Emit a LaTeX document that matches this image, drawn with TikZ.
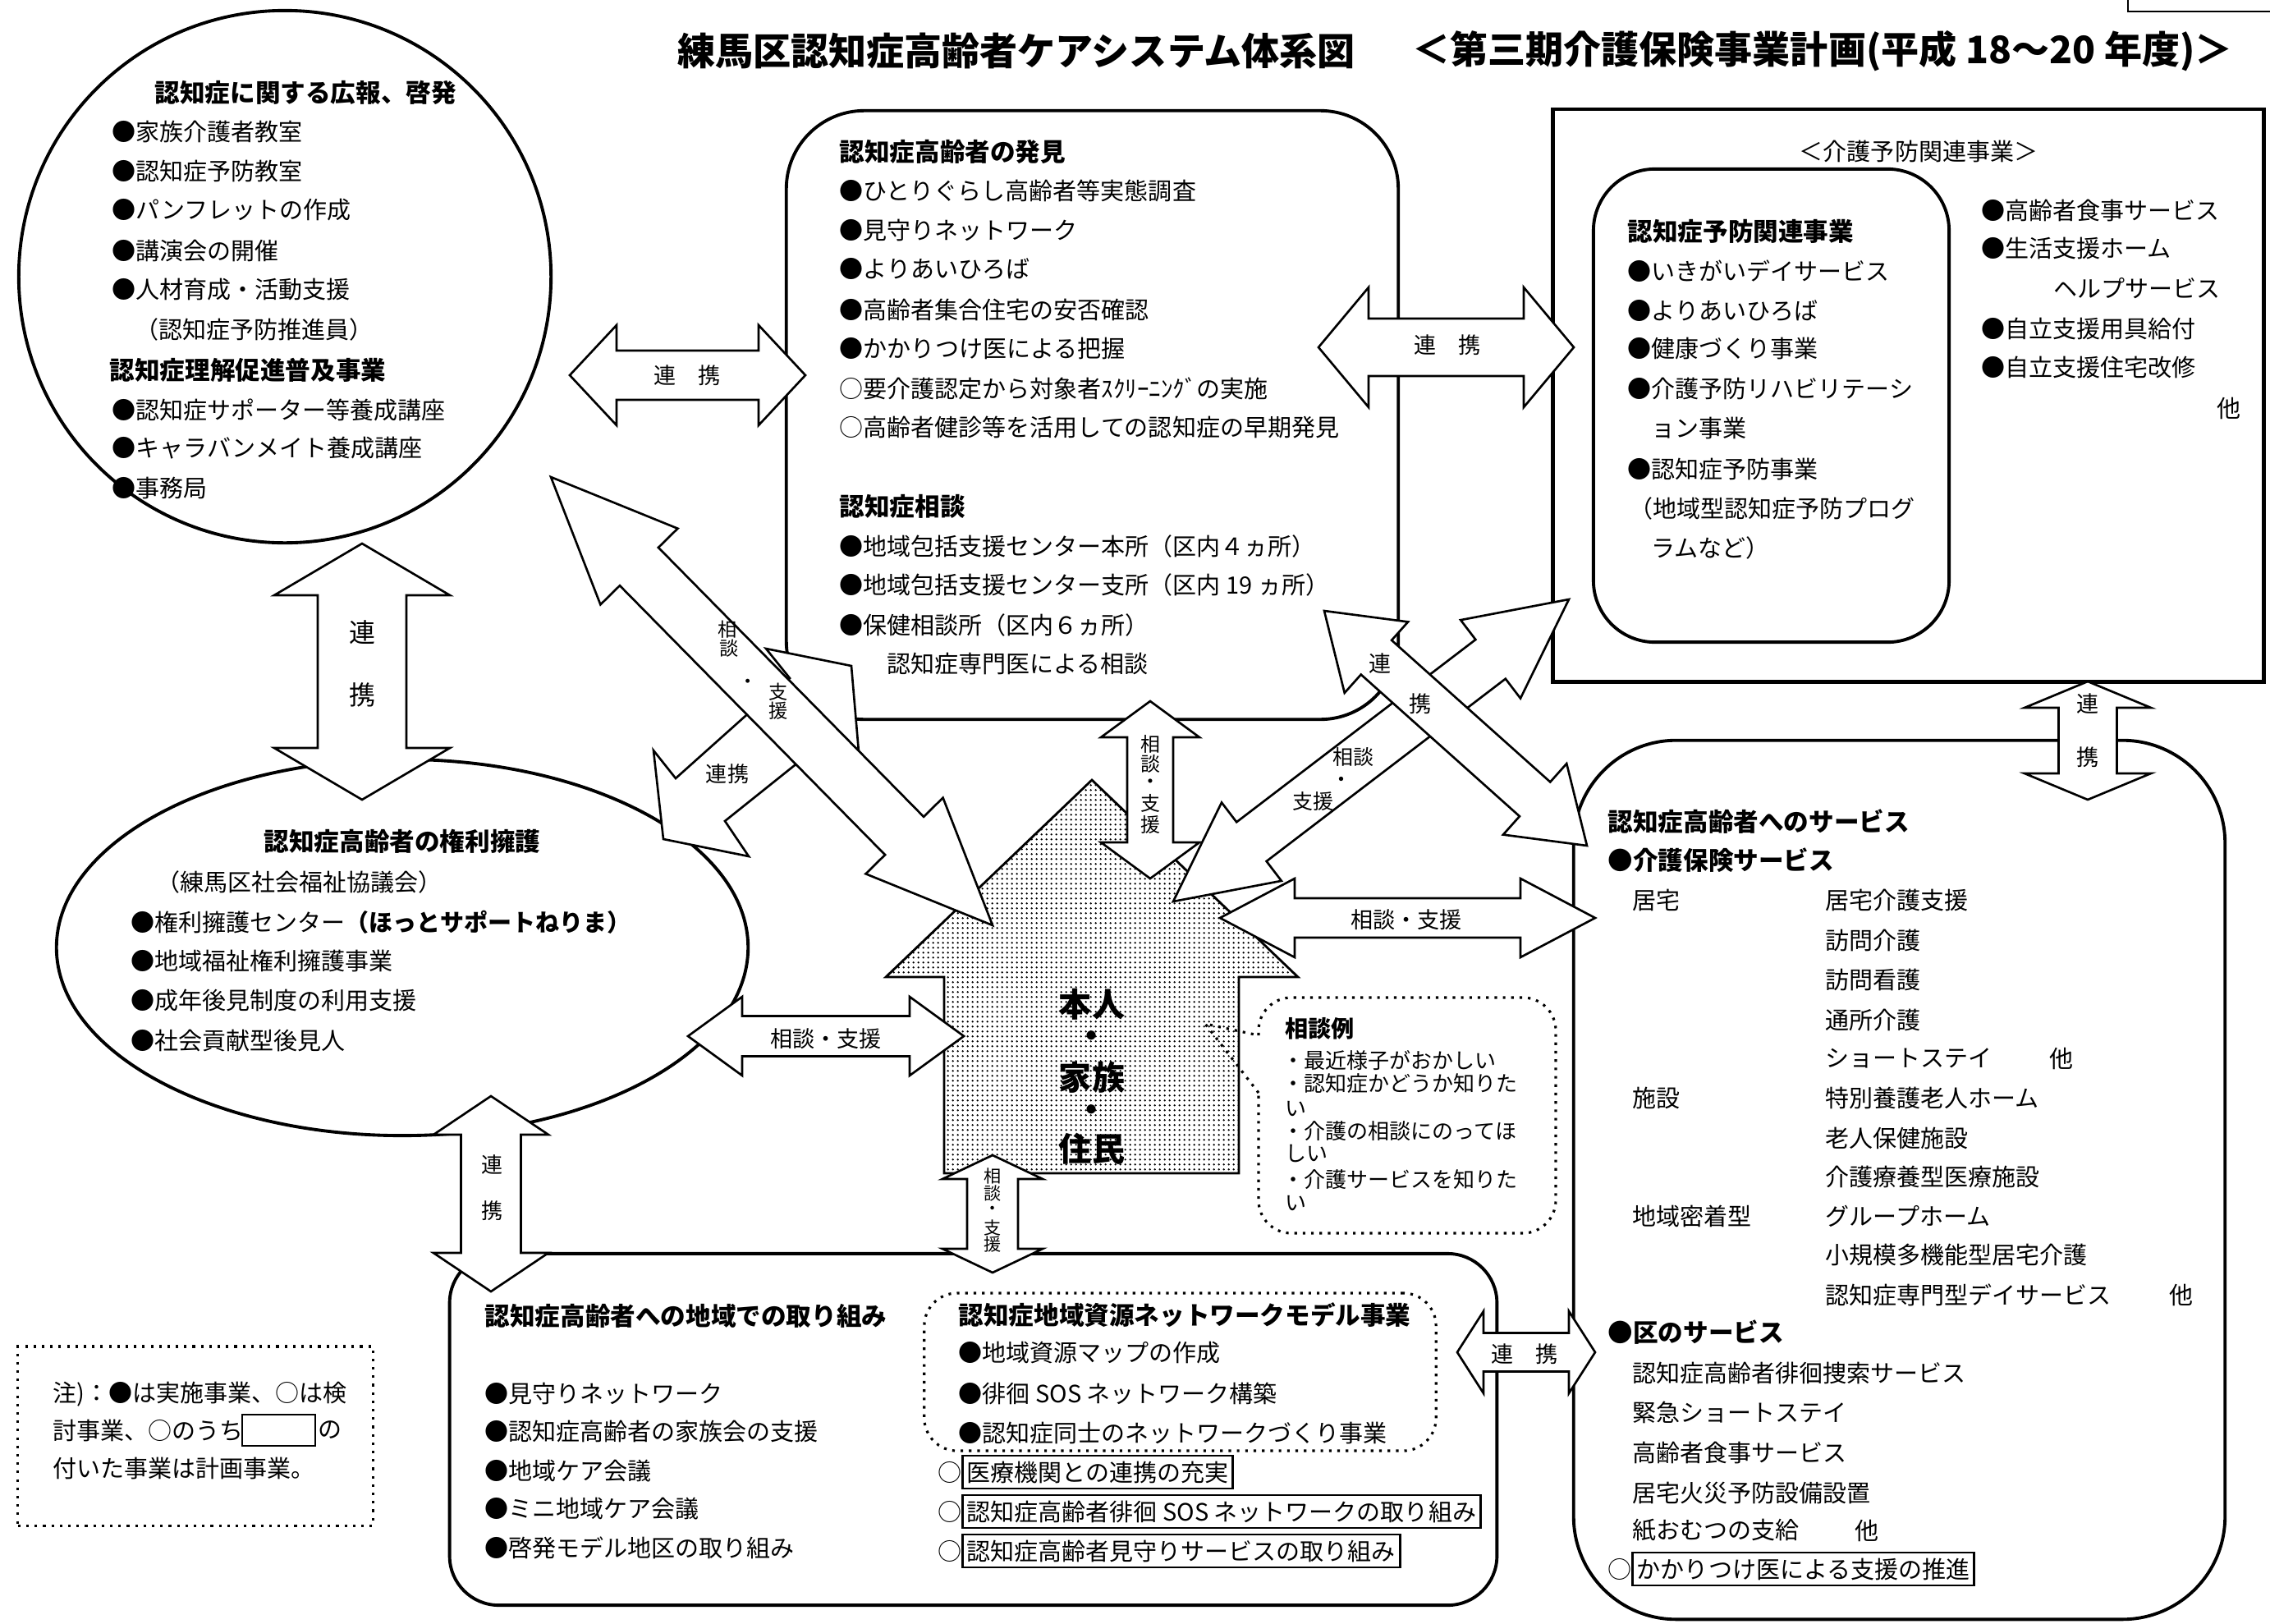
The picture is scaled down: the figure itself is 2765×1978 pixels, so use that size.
\documentclass[tikz,border=0pt]{standalone}
\usepackage{fontspec}
\setmainfont{Noto Sans CJK JP}
\usetikzlibrary{calc,shapes.geometric,patterns}
\pgfdeclarepatternformonly{finedots}{\pgfpointorigin}{\pgfpoint{1.6pt}{1.6pt}}{\pgfpoint{1.6pt}{1.6pt}}{\pgfpathcircle{\pgfpoint{0.8pt}{0.8pt}}{0.38pt}\pgfusepath{fill}}
\newcommand{\fsz}[1]{\fontsize{#1}{#1}\selectfont}
\newcommand{\txtline}[4]{\node[txt] (#1) at (#2,#3) {#4};}
% double block arrow: tipA, tipB, shaft half width, head half width, head length
\newcommand{\dblarrow}[5]{%
  \draw[blk] (#1)
    -- ($(#1)!#5!(#2)!#4!90:(#2)$)
    -- ($(#1)!#5!(#2)!#3!90:(#2)$)
    -- ($(#2)!#5!(#1)!#3!-90:(#1)$)
    -- ($(#2)!#5!(#1)!#4!-90:(#1)$)
    -- (#2)
    -- ($(#2)!#5!(#1)!#4!90:(#1)$)
    -- ($(#2)!#5!(#1)!#3!90:(#1)$)
    -- ($(#1)!#5!(#2)!#3!-90:(#2)$)
    -- ($(#1)!#5!(#2)!#4!-90:(#2)$)
    -- cycle;}
\begin{document}
\begin{tikzpicture}[x=0.01cm,y=-0.01cm,
  txt/.style={anchor=west,inner sep=0pt,font=\fsz{8.25pt}},
  hdr/.style={anchor=west,inner sep=0pt,font=\fsz{8.7pt}\bfseries},
  lbl/.style={inner sep=0pt,font=\fsz{7.7pt}},
  boxed/.style={anchor=west,draw,line width=0.8pt,inner xsep=1.5pt,inner ysep=0pt,minimum height=0.40cm,font=\fsz{8.25pt}},
  frame/.style={draw,line width=1.1pt,inner sep=0pt},
  blk/.style={draw,fill=white,line width=0.75pt,line join=miter},
  dotframe/.style={draw,dotted,line width=0.9pt,inner sep=0pt},
]
\fill[white] (0,0) rectangle (2765,1978);
\useasboundingbox (0,0) rectangle (2765,1978);

% ---------- titles ----------
\node[inner sep=0pt,font=\fsz{13.1pt}\bfseries] (title) at (1238,62) {練馬区認知症高齢者ケアシステム体系図};
\node[inner sep=0pt,font=\fsz{13.1pt}\bfseries] (title2) at (2220,62) {＜第三期介護保険事業計画(平成 18〜20 年度)＞};
\draw[line width=0.8pt] (2592,0) -- (2592,14) -- (2765,14);

% ---------- main shapes ----------
\node[frame,circle,minimum size=6.48cm] (kouhou) at (347,337) {};
\node[frame,rounded corners=0.95cm,minimum width=7.45cm,minimum height=7.41cm] (hakken) at (1330.5,505.5) {};
\node[frame,line width=1.3pt,minimum width=8.65cm,minimum height=6.97cm] (yobo) at (2324.5,481.5) {};
\node[frame,rounded corners=0.75cm,minimum width=4.33cm,minimum height=5.76cm] (yoboin) at (2157.5,494) {};
\node[frame,ellipse,minimum width=8.42cm,minimum height=4.58cm] (kenri) at (490,1154) {};
\node[frame,rounded corners=0.6cm,minimum width=12.75cm,minimum height=4.28cm] (chiiki) at (1185.5,1741) {};
\node[dotframe,rounded corners=0.4cm,minimum width=6.23cm,minimum height=1.92cm] (model) at (1437.5,1671) {};
\node[frame,rounded corners=1.25cm,minimum width=7.93cm,minimum height=10.70cm] (service) at (2313.5,1437) {};
\node[dotframe,minimum width=4.32cm,minimum height=2.18cm] (note) at (238,1749) {};

% house
\draw[line width=0.8pt,pattern=finedots] (1330,950) -- (1581,1190) -- (1509,1190) -- (1509,1429) -- (1150,1429) -- (1150,1190) -- (1079,1190) -- cycle;
\coordinate (house) at (1330,1250);

% consultation bubble
\draw[dotted,line width=0.9pt,rounded corners=0.4cm] (1533,1261) -- (1533,1215) -- (1895,1215) -- (1895,1502) -- (1533,1502) -- (1533,1331);
\draw[dotted,line width=0.9pt] (1533,1331) -- (1468,1247) -- (1533,1261);

% ---------- arrows ----------
% single "renkei" arrow from the discovery box towards the rights ellipse (partly hidden by the big arrow)
\coordinate (a4p) at (808,1022);
\coordinate (a4c1) at (796,914);  \coordinate (a4i1) at (823,948);
\coordinate (a4u1) at (908,872);  \coordinate (a4u2) at (962,826);
\coordinate (a4t1) at (933,790);  \coordinate (a4t2) at (1037,811);
\coordinate (a4r1) at (1046,916); \coordinate (a4r2) at (968,932);
\coordinate (a4i2) at (883,1000); \coordinate (a4c2) at (912,1043);
\draw[blk] (a4p) -- (a4c1) -- (a4i1) -- (a4u1) -- (a4u2) -- (a4t1) -- (a4t2) -- (a4r1) -- (a4r2) -- (a4i2) -- (a4c2) -- cycle;
\coordinate (a3a) at (671,581); \coordinate (a3b) at (1209,1127);
\dblarrow{a3a}{a3b}{0.33cm}{0.66cm}{1.53cm}
\coordinate (a1a) at (694,457); \coordinate (a1b) at (981,457);
\dblarrow{a1a}{a1b}{0.30cm}{0.61cm}{0.57cm}
\coordinate (axa) at (1606,423); \coordinate (axb) at (1917,423);
\dblarrow{axa}{axb}{0.35cm}{0.73cm}{0.61cm}
\coordinate (v1a) at (441,662); \coordinate (v1b) at (441,974);
\dblarrow{v1a}{v1b}{0.54cm}{1.07cm}{0.63cm}
\coordinate (vta) at (1401,854); \coordinate (vtb) at (1401,1070);
\dblarrow{vta}{vtb}{0.28cm}{0.60cm}{0.44cm}
\coordinate (x2a) at (1429,1098); \coordinate (x2b) at (1911,730);
\dblarrow{x2a}{x2b}{0.30cm}{0.60cm}{1.20cm}
\coordinate (x1a) at (1613,744); \coordinate (x1b) at (1933,1030);
\dblarrow{x1a}{x1b}{0.28cm}{0.58cm}{0.85cm}
\coordinate (h1a) at (1486,1118); \coordinate (h1b) at (1943,1118);
\dblarrow{h1a}{h1b}{0.24cm}{0.48cm}{0.91cm}
\coordinate (h2a) at (838,1262); \coordinate (h2b) at (1174,1262);
\dblarrow{h2a}{h2b}{0.245cm}{0.48cm}{0.66cm}
\coordinate (v2a) at (598,1335); \coordinate (v2b) at (598,1573);
\dblarrow{v2a}{v2b}{0.365cm}{0.70cm}{0.47cm}
\coordinate (v3a) at (1209,1407); \coordinate (v3b) at (1209,1550);
\dblarrow{v3a}{v3b}{0.31cm}{0.61cm}{0.29cm}
\coordinate (vra) at (2543,830); \coordinate (vrb) at (2543,974);
\dblarrow{vra}{vrb}{0.355cm}{0.77cm}{0.32cm}
\coordinate (hba) at (1775,1647); \coordinate (hbb) at (1943,1647);
\dblarrow{hba}{hbb}{0.235cm}{0.50cm}{0.32cm}

% ---------- arrow labels ----------
\node[lbl] (l1) at (837,457) {連　携};
\node[lbl] (l2) at (1763,420) {連　携};
\node[lbl,font=\fsz{9.1pt}] (l3a) at (441,770) {連};
\node[lbl,font=\fsz{9.1pt}] (l3b) at (441,846) {携};
\node[lbl,font=\fsz{6.6pt}] (l4a) at (886,767) {相};
\node[lbl,font=\fsz{6.6pt}] (l4b) at (888,790) {談};
\node[lbl,font=\fsz{6.6pt}] (l4c) at (911,833) {・};
\node[lbl,font=\fsz{6.6pt}] (l4d) at (948,843) {支};
\node[lbl,font=\fsz{6.6pt}] (l4e) at (948,866) {援};
\node[lbl,font=\fsz{7.4pt}] (l5) at (886,943) {連携};
\node[lbl,font=\fsz{6.8pt}] (l6a) at (1401,906) {相};
\node[lbl,font=\fsz{6.8pt}] (l6b) at (1401,930) {談};
\node[lbl,font=\fsz{6.8pt}] (l6c) at (1401,955) {・};
\node[lbl,font=\fsz{6.8pt}] (l6d) at (1401,978) {支};
\node[lbl,font=\fsz{6.8pt}] (l6e) at (1401,1004) {援};
\node[lbl] (l7a) at (1681,808) {連};
\node[lbl] (l7b) at (1730,857) {携};
\node[lbl,font=\fsz{7.1pt}] (l8a) at (1648,922) {相談};
\node[lbl,font=\fsz{7.1pt}] (l8b) at (1634,952) {・};
\node[lbl,font=\fsz{7.1pt}] (l8c) at (1599,976) {支援};
\node[lbl] (l9) at (1713,1120) {相談・支援};
\node[lbl] (l10) at (1006,1265) {相談・支援};
\node[lbl,font=\fsz{7.4pt}] (l11a) at (600,1418) {連};
\node[lbl,font=\fsz{7.4pt}] (l11b) at (600,1475) {携};
\node[lbl,font=\fsz{6pt}] (l12a) at (1209,1432) {相};
\node[lbl,font=\fsz{6pt}] (l12b) at (1209,1453) {談};
\node[lbl,font=\fsz{6pt}] (l12c) at (1209,1474) {・};
\node[lbl,font=\fsz{6pt}] (l12d) at (1209,1495) {支};
\node[lbl,font=\fsz{6pt}] (l12e) at (1209,1516) {援};
\node[lbl] (l13a) at (2543,857) {連};
\node[lbl] (l13b) at (2543,922) {携};
\node[lbl] (l14) at (1857,1649) {連　携};

% ---------- circle text ----------
\node[hdr] (k0) at (188,113) {認知症に関する広報、啓発};
\txtline{k1}{136}{160}{●家族介護者教室}
\txtline{k2}{136}{208}{●認知症予防教室}
\txtline{k3}{136}{256}{●パンフレットの作成}
\txtline{k4}{136}{306}{●講演会の開催}
\txtline{k5}{136}{353}{●人材育成・活動支援}
\txtline{k6}{164}{401}{（認知症予防推進員）}
\node[hdr] (k7) at (133,451) {認知症理解促進普及事業};
\txtline{k8}{136}{499}{●認知症サポーター等養成講座}
\txtline{k9}{136}{546}{●キャラバンメイト養成講座}
\txtline{k10}{136}{594}{●事務局}

% ---------- top box text ----------
\node[hdr] (t0) at (1022,185) {認知症高齢者の発見};
\txtline{t1}{1022}{232}{●ひとりぐらし高齢者等実態調査}
\txtline{t2}{1022}{280}{●見守りネットワーク}
\txtline{t3}{1022}{327}{●よりあいひろば}
\txtline{t4}{1022}{377}{●高齢者集合住宅の安否確認}
\txtline{t5}{1022}{424}{●かかりつけ医による把握}
\txtline{t6}{1022}{473}{○要介護認定から対象者ｽｸﾘｰﾆﾝｸﾞの実施}
\txtline{t7}{1022}{520}{○高齢者健診等を活用しての認知症の早期発見}
\node[hdr] (t8) at (1022,617) {認知症相談};
\txtline{t9}{1022}{665}{●地域包括支援センター本所（区内４ヵ所）}
\txtline{t10}{1022}{712}{●地域包括支援センター支所（区内 19 ヵ所）}
\txtline{t11}{1022}{761}{●保健相談所（区内６ヵ所）}
\txtline{t12}{1080}{808}{認知症専門医による相談}

% ---------- top right text ----------
\node[txt,anchor=center] (r0) at (2337,184) {＜介護予防関連事業＞};
\node[hdr] (r1) at (1982,282) {認知症予防関連事業};
\txtline{r2}{1982}{330}{●いきがいデイサービス}
\txtline{r3}{1982}{378}{●よりあいひろば}
\txtline{r4}{1982}{425}{●健康づくり事業}
\txtline{r5}{1982}{473}{●介護予防リハビリテーシ}
\txtline{r6}{2011}{521}{ョン事業}
\txtline{r7}{1982}{571}{●認知症予防事業}
\txtline{r8}{1984}{619}{（地域型認知症予防プログ}
\txtline{r9}{2011}{667}{ラムなど）}
\txtline{r10}{2413}{256}{●高齢者食事サービス}
\txtline{r11}{2413}{303}{●生活支援ホーム}
\txtline{r12}{2501}{351}{ヘルプサービス}
\txtline{r13}{2413}{401}{●自立支援用具給付}
\txtline{r14}{2413}{447}{●自立支援住宅改修}
\txtline{r15}{2700}{497}{他}

% ---------- rights ellipse text ----------
\node[hdr,anchor=center] (e0) at (490,1025) {認知症高齢者の権利擁護};
\txtline{e1}{190}{1074}{（練馬区社会福祉協議会）}
\txtline{e2}{159}{1123}{●権利擁護センター{\bfseries（ほっとサポートねりま）}}
\txtline{e3}{159}{1170}{●地域福祉権利擁護事業}
\txtline{e4}{159}{1219}{●成年後見制度の利用支援}
\txtline{e5}{159}{1268}{●社会貢献型後見人}

% ---------- house text ----------
\node[inner sep=0pt,font=\fsz{11.4pt}\bfseries] (hs1) at (1330,1223) {本人};
\node[inner sep=0pt,font=\fsz{11.4pt}\bfseries] (hs2) at (1330,1266) {・};
\node[inner sep=0pt,font=\fsz{11.4pt}\bfseries] (hs3) at (1330,1312) {家族};
\node[inner sep=0pt,font=\fsz{11.4pt}\bfseries] (hs4) at (1330,1356) {・};
\node[inner sep=0pt,font=\fsz{11.4pt}\bfseries] (hs5) at (1330,1399) {住民};

% ---------- bubble text ----------
\node[anchor=west,inner sep=0pt,font=\fsz{8pt}\bfseries] (q0) at (1565,1253) {相談例};
\node[anchor=west,inner sep=0pt,font=\fsz{7.4pt}] (q1) at (1562,1292) {・最近様子がおかしい};
\node[anchor=west,inner sep=0pt,font=\fsz{7.4pt}] (q2) at (1562,1320) {・認知症かどうか知りた};
\node[anchor=west,inner sep=0pt,font=\fsz{7.4pt}] (q3) at (1565,1350) {い};
\node[anchor=west,inner sep=0pt,font=\fsz{7.4pt}] (q4) at (1562,1378) {・介護の相談にのってほ};
\node[anchor=west,inner sep=0pt,font=\fsz{7.4pt}] (q5) at (1565,1405) {しい};
\node[anchor=west,inner sep=0pt,font=\fsz{7.4pt}] (q6) at (1562,1437) {・介護サービスを知りた};
\node[anchor=west,inner sep=0pt,font=\fsz{7.4pt}] (q7) at (1565,1465) {い};

% ---------- bottom box text ----------
\node[hdr] (b0) at (590,1603) {認知症高齢者への地域での取り組み};
\txtline{b1}{590}{1697}{●見守りネットワーク}
\txtline{b2}{590}{1743}{●認知症高齢者の家族会の支援}
\txtline{b3}{590}{1792}{●地域ケア会議}
\txtline{b4}{590}{1838}{●ミニ地域ケア会議}
\txtline{b5}{590}{1885}{●啓発モデル地区の取り組み}
\node[hdr] (d0) at (1167,1602) {認知症地域資源ネットワークモデル事業};
\txtline{d1}{1167}{1648}{●地域資源マップの作成}
\txtline{d2}{1167}{1697}{●徘徊 SOS ネットワーク構築}
\txtline{d3}{1167}{1745}{●認知症同士のネットワークづくり事業}
\txtline{m1}{1142}{1793}{○}
\node[boxed] (m1b) at (1171,1793) {医療機関との連携の充実};
\txtline{m2}{1142}{1841}{○}
\node[boxed] (m2b) at (1171,1841) {認知症高齢者徘徊 SOS ネットワークの取り組み};
\txtline{m3}{1142}{1889}{○}
\node[boxed] (m3b) at (1171,1889) {認知症高齢者見守りサービスの取り組み};

% ---------- service box text ----------
\node[hdr] (s0) at (1958,1001) {認知症高齢者へのサービス};
\node[hdr] (s1) at (1958,1048) {●介護保険サービス};
\txtline{s2}{1988}{1096}{居宅}
\txtline{s3}{2223}{1096}{居宅介護支援}
\txtline{s4}{2223}{1145}{訪問介護}
\txtline{s5}{2223}{1193}{訪問看護}
\txtline{s6}{2223}{1242}{通所介護}
\txtline{s7}{2223}{1289}{ショートステイ}
\txtline{s8}{2496}{1289}{他}
\txtline{s9}{1988}{1337}{施設}
\txtline{s10}{2223}{1337}{特別養護老人ホーム}
\txtline{s11}{2223}{1386}{老人保健施設}
\txtline{s12}{2223}{1433}{介護療養型医療施設}
\txtline{s13}{1988}{1481}{地域密着型}
\txtline{s14}{2223}{1481}{グループホーム}
\txtline{s15}{2223}{1528}{小規模多機能型居宅介護}
\txtline{s16}{2223}{1577}{認知症専門型デイサービス}
\txtline{s17}{2642}{1577}{他}
\node[hdr] (s18) at (1958,1623) {●区のサービス};
\txtline{s19}{1988}{1672}{認知症高齢者徘徊捜索サービス}
\txtline{s20}{1988}{1720}{緊急ショートステイ}
\txtline{s21}{1988}{1769}{高齢者食事サービス}
\txtline{s22}{1988}{1818}{居宅火災予防設備設置}
\txtline{s23}{1988}{1864}{紙おむつの支給}
\txtline{s24}{2259}{1864}{他}
\txtline{s25}{1958}{1911}{○}
\node[boxed] (s26) at (1987,1911) {かかりつけ医による支援の推進};

% ---------- note ----------
\txtline{n1}{64}{1698}{注)：●は実施事業、○は検}
\txtline{n2}{64}{1742}{討事業、○のうち}
\node[draw,line width=0.8pt,minimum width=0.89cm,minimum height=0.38cm,inner sep=0pt] (nbox) at (339.5,1742) {};
\txtline{n3}{387}{1742}{の}
\txtline{n4}{64}{1788}{付いた事業は計画事業。}
\end{tikzpicture}
\end{document}
